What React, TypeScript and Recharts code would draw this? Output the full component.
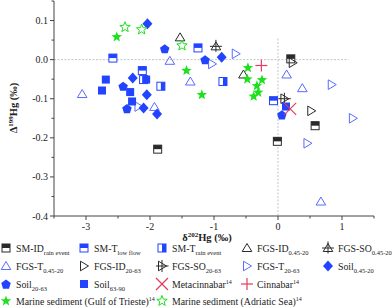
import React from 'react';
import { ScatterChart, Scatter, XAxis, YAxis, ReferenceLine } from 'recharts';

// δ202Hg (x) and Δ199Hg (y) per sample group
const smIdRain = [[-1.88, -0.229], [0.2, 0.002], [0.58, -0.169], [-0.01, -0.209]];
const smTLowFlow = [[-2.58, 0.004], [-2.12, -0.028], [-1.25, 0.03], [-0.07, -0.105]];
const smTRain = [[-1.83, -0.068], [-2.1, -0.051], [-0.86, -0.056]];
const fgsId045 = [[-1.53, 0.057], [-0.54, -0.038]];
const fgsSo045 = [[-0.97, 0.034]];
const fgsT045 = [[-3.06, -0.088], [-1.69, -0.003], [-1.37, -0.056], [-1.93, -0.121], [0.135, -0.038], [0.38, -0.073], [0.67, -0.363]];
const fgsId2063 = [[0.23, -0.008], [0.52, -0.131]];
const fgsSo2063 = [[0.1, -0.1]];
const fgsT2063 = [[-0.66, 0.015], [-1.03, -0.011], [0.84, -0.064], [1.17, -0.15], [0.46, -0.214], [-2.18, -0.12]];
const soil045 = [[-2.04, 0.092], [-2.27, -0.047], [-2.05, -0.09], [-2.1, -0.124], [-1.89, -0.139], [-0.88, 0.006]];
const soil2063 = [[-1.77, 0.028], [-2.42, -0.068], [-2.36, -0.125], [-1.14, 0.0], [0.06, -0.141]];
const soil6390 = [[-2.69, -0.051], [-2.75, -0.079], [-2.31, -0.083], [-2.06, -0.051], [-2.28, -0.107], [0.125, -0.12]];
const metacinnabar = [[0.19, -0.126]];
const cinnabar = [[-0.26, -0.015]];
const gulfTrieste = [[-2.52, 0.058], [-1.43, -0.028], [-0.47, -0.021], [-0.48, -0.05], [-0.25, -0.052], [-1.19, -0.09], [-0.33, -0.067], [-0.31, -0.084], [-0.38, -0.094]];
const adriatic = [[-2.39, 0.083], [-2.13, 0.077], [-1.5, 0.036]];

const xTicks = [-3.5, -3, -2.5, -2, -1.5, -1, -0.5, 0, 0.5, 1, 1.5];
const yTicks = [-0.4, -0.35, -0.3, -0.25, -0.2, -0.15, -0.1, -0.05, 0, 0.05, 0.1, 0.15];

const DARK = '#2a2a2a';
const BLUE = '#2244ff';
const LBLUE = '#5a6bff';
const GREEN = '#1ee01e';
const RED = '#e23d5c';
const AXIS = '#444';
const FONT = '"Liberation Serif", "Times New Roman", serif';

const toPts = (a: number[][]) => a.map(([x, y]) => ({ x, y }));

function starPath(cx: number, cy: number, r: number) {
  let d = '';
  for (let i = 0; i < 10; i++) {
    const rr = i % 2 === 0 ? r : r * 0.42;
    const a = -Math.PI / 2 + (i * Math.PI) / 5;
    d += (i === 0 ? 'M' : 'L') + (cx + rr * Math.cos(a)).toFixed(2) + ',' + (cy + rr * Math.sin(a)).toFixed(2);
  }
  return d + 'Z';
}

function pentagon(cx: number, cy: number, r: number) {
  const p: string[] = [];
  for (let i = 0; i < 5; i++) {
    const a = -Math.PI / 2 + (i * 2 * Math.PI) / 5;
    p.push((cx + r * Math.cos(a)).toFixed(2) + ',' + (cy + r * Math.sin(a) + 0.6).toFixed(2));
  }
  return p.join(' ');
}

const triUp = (cx: number, cy: number) => `${cx},${cy - 4.5} ${cx + 4.8},${cy + 3.5} ${cx - 4.8},${cy + 3.5}`;
const triRight = (cx: number, cy: number) => `${cx - 3.5},${cy - 4.8} ${cx + 4.5},${cy} ${cx - 3.5},${cy + 4.8}`;

function Marker({ cx, cy, kind }: { cx: number; cy: number; kind: string }) {
  switch (kind) {
    case 'smIdRain':
      return (
        <g>
          <rect x={cx - 4} y={cy - 4} width={8} height={8} fill="#fff" stroke={DARK} />
          <rect x={cx - 4} y={cy - 4} width={8} height={4} fill={DARK} />
        </g>
      );
    case 'smTLow':
      return (
        <g>
          <rect x={cx - 4} y={cy - 4} width={8} height={8} fill="#fff" stroke={BLUE} />
          <rect x={cx - 4} y={cy - 4} width={8} height={4} fill={BLUE} />
        </g>
      );
    case 'smTRain':
      return (
        <g>
          <rect x={cx - 4} y={cy - 4} width={8} height={8} fill="#fff" stroke={BLUE} />
          <rect x={cx} y={cy - 4} width={4} height={8} fill={BLUE} />
        </g>
      );
    case 'fgsId045':
      return <polygon points={triUp(cx, cy)} fill="none" stroke={DARK} />;
    case 'fgsSo045':
      return (
        <g fill="none" stroke={DARK}>
          <polygon points={triUp(cx, cy)} />
          <line x1={cx} y1={cy - 6.5} x2={cx} y2={cy + 5.5} />
          <line x1={cx - 6} y1={cy} x2={cx + 6} y2={cy} />
        </g>
      );
    case 'fgsT045':
      return <polygon points={triUp(cx, cy)} fill="none" stroke={LBLUE} />;
    case 'fgsId2063':
      return <polygon points={triRight(cx, cy)} fill="none" stroke={DARK} />;
    case 'fgsSo2063':
      return (
        <g fill="none" stroke={DARK}>
          <polygon points={triRight(cx, cy)} />
          <line x1={cx - 6} y1={cy} x2={cx + 6.5} y2={cy} />
          <line x1={cx} y1={cy - 6} x2={cx} y2={cy + 6} />
        </g>
      );
    case 'fgsT2063':
      return <polygon points={triRight(cx, cy)} fill="none" stroke={LBLUE} />;
    case 'soil045':
      return <polygon points={`${cx},${cy - 5.5} ${cx + 5},${cy} ${cx},${cy + 5.5} ${cx - 5},${cy}`} fill={BLUE} />;
    case 'soil2063':
      return <polygon points={pentagon(cx, cy, 5)} fill={BLUE} />;
    case 'soil6390':
      return <rect x={cx - 4} y={cy - 4} width={8} height={8} fill={BLUE} />;
    case 'meta':
      return (
        <g stroke={RED} strokeWidth={1.2}>
          <line x1={cx - 6} y1={cy - 6} x2={cx + 6} y2={cy + 6} />
          <line x1={cx - 6} y1={cy + 6} x2={cx + 6} y2={cy - 6} />
        </g>
      );
    case 'cinnabar':
      return (
        <g stroke={RED} strokeWidth={1.2}>
          <line x1={cx - 6} y1={cy} x2={cx + 6} y2={cy} />
          <line x1={cx} y1={cy - 6} x2={cx} y2={cy + 6} />
        </g>
      );
    case 'gulf':
      return <path d={starPath(cx, cy, 5.5)} fill={GREEN} />;
    case 'adriatic':
      return <path d={starPath(cx, cy, 5.5)} fill="#fff" stroke={GREEN} />;
    default:
      return null;
  }
}

function XTick({ x, y, payload }: any) {
  const v = payload.value;
  const major = Number.isInteger(v);
  return (
    <g>
      <line x1={x} y1={y} x2={x} y2={y + (major ? 4 : 2.5)} stroke={AXIS} />
      {major && (
        <text x={x} y={y + 13.5} textAnchor="middle" fontSize={10} fontFamily={FONT} fill="#222">
          {v}
        </text>
      )}
    </g>
  );
}

function YTick({ x, y, payload }: any) {
  const v = payload.value;
  const major = Math.abs(v * 10 - Math.round(v * 10)) < 1e-6;
  return (
    <g>
      <line x1={x} y1={y} x2={x - (major ? 4 : 2.5)} y2={y} stroke={AXIS} />
      {major && (
        <text x={x - 6} y={y + 3.5} textAnchor="end" fontSize={10} fontFamily={FONT} fill="#222">
          {v.toFixed(1)}
        </text>
      )}
    </g>
  );
}

const series = [
  { kind: 'smIdRain', data: smIdRain },
  { kind: 'smTLow', data: smTLowFlow },
  { kind: 'smTRain', data: smTRain },
  { kind: 'fgsId045', data: fgsId045 },
  { kind: 'fgsSo045', data: fgsSo045 },
  { kind: 'fgsT045', data: fgsT045 },
  { kind: 'fgsId2063', data: fgsId2063 },
  { kind: 'fgsSo2063', data: fgsSo2063 },
  { kind: 'fgsT2063', data: fgsT2063 },
  { kind: 'soil045', data: soil045 },
  { kind: 'soil2063', data: soil2063 },
  { kind: 'soil6390', data: soil6390 },
  { kind: 'meta', data: metacinnabar },
  { kind: 'cinnabar', data: cinnabar },
  { kind: 'gulf', data: gulfTrieste },
  { kind: 'adriatic', data: adriatic },
];

const legendItems = [
  { kind: 'smIdRain', label: 'SM-ID', sub: 'rain event', sup: '', col: 0, row: 0 },
  { kind: 'smTLow', label: 'SM-T', sub: 'low flow', sup: '', col: 1, row: 0 },
  { kind: 'smTRain', label: 'SM-T', sub: 'rain event', sup: '', col: 2, row: 0 },
  { kind: 'fgsId045', label: 'FGS-ID', sub: '0.45-20', sup: '', col: 3, row: 0 },
  { kind: 'fgsSo045', label: 'FGS-SO', sub: '0.45-20', sup: '', col: 4, row: 0 },
  { kind: 'fgsT045', label: 'FGS-T', sub: '0.45-20', sup: '', col: 0, row: 1 },
  { kind: 'fgsId2063', label: 'FGS-ID', sub: '20-63', sup: '', col: 1, row: 1 },
  { kind: 'fgsSo2063', label: 'FGS-SO', sub: '20-63', sup: '', col: 2, row: 1 },
  { kind: 'fgsT2063', label: 'FGS-T', sub: '20-63', sup: '', col: 3, row: 1 },
  { kind: 'soil045', label: 'Soil', sub: '0.45-20', sup: '', col: 4, row: 1 },
  { kind: 'soil2063', label: 'Soil', sub: '20-63', sup: '', col: 0, row: 2 },
  { kind: 'soil6390', label: 'Soil', sub: '63-90', sup: '', col: 1, row: 2 },
  { kind: 'meta', label: 'Metacinnabar', sub: '', sup: '14', col: 2, row: 2 },
  { kind: 'cinnabar', label: 'Cinnabar', sub: '', sup: '14', col: 3, row: 2 },
  { kind: 'gulf', label: 'Marine sediment (Gulf of Trieste)', sub: '', sup: '14', col: 0, row: 3 },
  { kind: 'adriatic', label: 'Marine sediment (Adriatic Sea)', sub: '', sup: '14', col: 2, row: 3 },
];

const colX = [6, 84, 162, 247, 328];
const rowY = [248, 266, 284, 301];

export default function App() {
  return (
    <div style={{ position: 'absolute', left: 0, top: 0, width: 392, height: 308, background: '#fff' }}>
      <ScatterChart width={392} height={308} margin={{ top: 1, right: 18, bottom: 62, left: 10 }}>
        <XAxis
          type="number"
          dataKey="x"
          domain={[-3.5, 1.5]}
          ticks={xTicks}
          interval={0}
          height={30}
          tickSize={0}
          tickMargin={0}
          tick={<XTick />}
          stroke={AXIS}
          allowDataOverflow
        />
        <YAxis
          type="number"
          dataKey="y"
          domain={[-0.4, 0.15]}
          ticks={yTicks}
          interval={0}
          width={44}
          tickSize={0}
          tickMargin={0}
          tick={<YTick />}
          stroke={AXIS}
          allowDataOverflow
        />
        <ReferenceLine segment={[{ x: -3.5, y: 0 }, { x: 1.1, y: 0 }]} stroke="#c4c4c4" strokeDasharray="2 1.5" />
        <ReferenceLine segment={[{ x: 0, y: 0.054 }, { x: 0, y: -0.4 }]} stroke="#c4c4c4" strokeDasharray="2 1.5" />
        {series.map(s => (
          <Scatter
            key={s.kind}
            data={toPts(s.data)}
            isAnimationActive={false}
            shape={(p: any) => <Marker cx={p.cx} cy={p.cy} kind={s.kind} />}
          />
        ))}
      </ScatterChart>
      <svg
        width={392}
        height={308}
        style={{ position: 'absolute', left: 0, top: 0, pointerEvents: 'none' }}
        fontFamily={FONT}
      >
        <text transform="translate(17,108) rotate(-90)" textAnchor="middle" fontSize={10.5} fontWeight="bold" fill="#222">
          Δ<tspan fontSize={7} dy={-4}>199</tspan>
          <tspan dy={4}>Hg (‰)</tspan>
        </text>
        <text x={207} y={241} textAnchor="middle" fontSize={10.5} fontWeight="bold" fill="#222">
          δ<tspan fontSize={7} dy={-4}>202</tspan>
          <tspan dy={4}>Hg (‰)</tspan>
        </text>
        {legendItems.map(it => {
          const cx = colX[it.col];
          const cy = rowY[it.row];
          return (
            <g key={it.kind}>
              <Marker cx={cx} cy={cy} kind={it.kind} />
              <text x={cx + 10} y={cy + 3.5} fontSize={9.8} fill="#222">
                {it.label}
                {it.sub && (
                  <tspan fontSize={6.5} dy={3}>
                    {it.sub}
                  </tspan>
                )}
                {it.sup && (
                  <tspan fontSize={6} dy={-4}>
                    {it.sup}
                  </tspan>
                )}
              </text>
            </g>
          );
        })}
      </svg>
    </div>
  );
}
